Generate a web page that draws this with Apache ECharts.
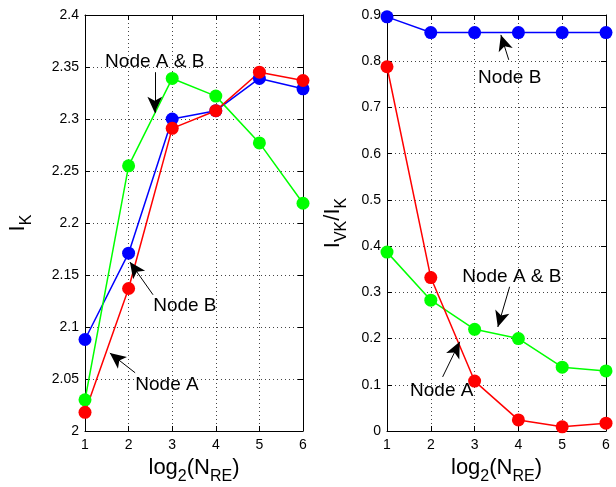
<!DOCTYPE html>
<html><head><meta charset="utf-8">
<script src="https://cdn.jsdelivr.net/npm/echarts@6/dist/echarts.min.js"></script>
<style>html,body{margin:0;padding:0;background:#fff}#c{width:616px;height:487px}</style>
</head><body><div id="c"></div>
<script>
// ---- data ----
const nre = [1, 2, 3, 4, 5, 6];
const ikNodeA  = [2.018, 2.137, 2.291, 2.308, 2.345, 2.337];
const ikNodeB  = [2.088, 2.171, 2.300, 2.308, 2.339, 2.329];
const ikNodeAB = [2.030, 2.255, 2.339, 2.322, 2.277, 2.219];
const ratioNodeA  = [0.788, 0.332, 0.108, 0.024, 0.009, 0.017];
const ratioNodeB  = [0.896, 0.862, 0.862, 0.862, 0.862, 0.862];
const ratioNodeAB = [0.387, 0.283, 0.220, 0.200, 0.138, 0.130];
const leftTicks = [2, 2.05, 2.1, 2.15, 2.2, 2.25, 2.3, 2.35, 2.4];
const rightTicks = [0, 0.1, 0.2, 0.3, 0.4, 0.5, 0.6, 0.7, 0.8, 0.9];
// annotations: [text, textX, textY, tailX, tailY, headX, headY]
const leftNotes = [
  ['Node A & B', 2.60, 2.355, 2.60, 2.345, 2.60, 2.306],
  ['Node B', 3.29, 2.120, 2.56, 2.131, 2.03, 2.1625],
  ['Node A', 2.88, 2.044, 2.15, 2.056, 1.57, 2.075]
];
const rightNotes = [
  ['Node B', 3.80, 0.764, 3.78, 0.803, 3.60, 0.857],
  ['Node A & B', 3.85, 0.333, 3.80, 0.312, 3.53, 0.225],
  ['Node A', 2.25, 0.087, 2.27, 0.117, 2.66, 0.193]
];

const FONT = 'Liberation Sans, Arial, Helvetica, sans-serif';
const RED = '#ff0000', BLUE = '#0000ff', GREEN = '#00ff00';

function pairs(ys) { return nre.map((x, i) => [x, ys[i]]); }

const rich = {
  a: { fontSize: 22, fontFamily: FONT, color: '#000', verticalAlign: 'top', lineHeight: 28 },
  b: { fontSize: 16, fontFamily: FONT, color: '#000', verticalAlign: 'bottom', lineHeight: 28 }
};

function xAxes(gi) {
  return [{
    type: 'value', gridIndex: gi, min: 1, max: 6, interval: 1,
    axisLine: { show: true, lineStyle: { color: '#000', width: 1 } },
    axisTick: { show: true, inside: true, length: 5, lineStyle: { color: '#000' } },
    axisLabel: { color: '#000', fontSize: 14, fontFamily: FONT, margin: 7 },
    splitLine: { show: true, lineStyle: { color: '#444', type: [1, 3], width: 1 } },
    name: '{a|log}{b|2}{a|(N}{b|RE}{a|)}', nameLocation: 'middle', nameGap: 26,
    nameTextStyle: { rich: rich }
  }, {
    type: 'value', gridIndex: gi, min: 1, max: 6, interval: 1, position: 'top',
    axisLine: { show: true, onZero: false, lineStyle: { color: '#000', width: 1 } },
    axisTick: { show: true, inside: true, length: 5, lineStyle: { color: '#000' } },
    axisLabel: { show: false }, splitLine: { show: false }
  }];
}
function yAxes(gi, min, max, interval, fmt, name, gap) {
  return [{
    type: 'value', gridIndex: gi, min: min, max: max, interval: interval,
    axisLine: { show: true, onZero: false, lineStyle: { color: '#000', width: 1 } },
    axisTick: { show: true, inside: true, length: 5, lineStyle: { color: '#000' } },
    axisLabel: { color: '#000', fontSize: 14, fontFamily: FONT, margin: 6, formatter: fmt },
    splitLine: { show: true, lineStyle: { color: '#444', type: [1, 3], width: 1 } },
    name: name, nameLocation: 'middle', nameGap: gap, nameRotate: 90,
    nameTextStyle: { rich: rich }
  }, {
    type: 'value', gridIndex: gi, min: min, max: max, interval: interval, position: 'right',
    axisLine: { show: true, onZero: false, lineStyle: { color: '#000', width: 1 } },
    axisTick: { show: true, inside: true, length: 5, lineStyle: { color: '#000' } },
    axisLabel: { show: false }, splitLine: { show: false }
  }];
}

function lineSeries(xi, yi, ys, color) {
  return {
    type: 'line', xAxisIndex: xi, yAxisIndex: yi, data: pairs(ys),
    symbol: 'circle', symbolSize: 13, clip: false,
    lineStyle: { color: color, width: 1.5 }, itemStyle: { color: color },
    z: 3
  };
}
function noteSeries(xi, yi, notes) {
  return {
    type: 'line', xAxisIndex: xi, yAxisIndex: yi, data: [], silent: true, z: 5,
    markLine: {
      silent: true, symbol: ['none', 'arrow'], symbolSize: [11, 16],
      lineStyle: { color: '#000', width: 1, type: 'solid' },
      label: { show: false },
      data: notes.map(n => [{ coord: [n[3], n[4]] }, { coord: [n[5], n[6]] }])
    },
    markPoint: {
      silent: true, symbol: 'circle', symbolSize: 1,
      itemStyle: { color: 'rgba(0,0,0,0)' },
      label: { show: true, position: 'inside', color: '#000', fontSize: 19, fontFamily: FONT },
      data: notes.map(n => ({ coord: [n[1], n[2]], value: n[0], label: { formatter: n[0] } }))
    }
  };
}

const chart = echarts.init(document.getElementById('c'), null, { renderer: 'canvas' });
chart.setOption({
  animation: false,
  backgroundColor: '#fff',
  grid: [
    { left: 85, right: 313, top: 15, bottom: 56, show: false, containLabel: false, outerBoundsMode: 'none' },
    { left: 387, right: 10, top: 15, bottom: 56, show: false, containLabel: false, outerBoundsMode: 'none' }
  ],
  xAxis: [...xAxes(0), ...xAxes(1)],
  yAxis: [
    ...yAxes(0, 2, 2.4, 0.05, v => String(+v.toFixed(2)), '{a|I}{b|K}', 50),
    ...yAxes(1, 0, 0.9, 0.1, v => (v === 0 ? '0' : String(+v.toFixed(1))), '{a|I}{b|VK}{a|/I}{b|K}', 37)
  ],
  series: [
    lineSeries(0, 0, ikNodeB, BLUE),
    lineSeries(0, 0, ikNodeAB, GREEN),
    lineSeries(0, 0, ikNodeA, RED),
    lineSeries(2, 2, ratioNodeB, BLUE),
    lineSeries(2, 2, ratioNodeAB, GREEN),
    lineSeries(2, 2, ratioNodeA, RED),
    noteSeries(0, 0, leftNotes),
    noteSeries(2, 2, rightNotes)
  ]
});
</script>
</body></html>
